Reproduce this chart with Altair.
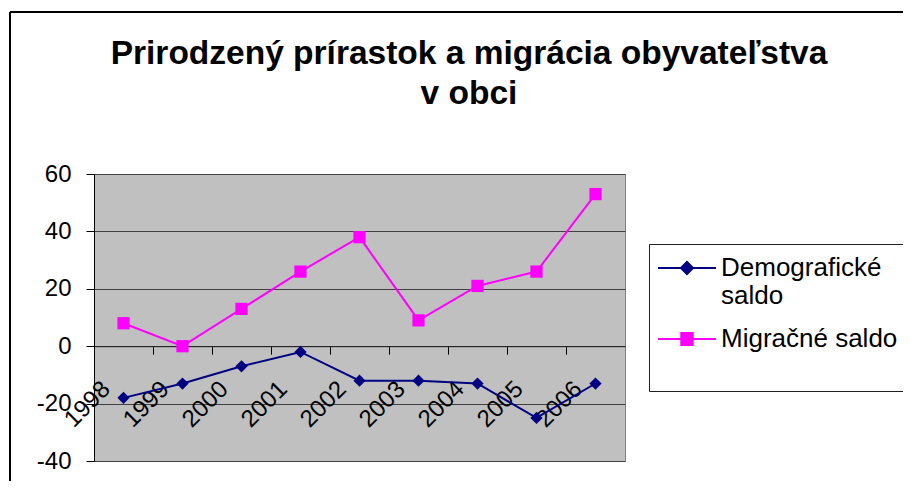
import altair as alt
import pandas as pd

years = ["1998", "1999", "2000", "2001", "2002", "2003", "2004", "2005", "2006"]
demograficke = [-18, -13, -7, -2, -12, -12, -13, -25, -13]
migracne = [8, 0, 13, 26, 38, 9, 21, 26, 53]
series = ["Demografické saldo", "Migračné saldo"]
colors = ["#000080", "#FF00FF"]
marker_shapes = ["diamond", "square"]
legend_shapes = [
    "M-2.5,0H7.16M1.33,0L2.33,-1L3.33,0L2.33,1Z",
    "M-2.5,0H7.16M1.38,-1H3.28V1H1.38Z",
]
title_lines = ["Prirodzený prírastok a migrácia obyvateľstva", "v obci"]
y_ticks = [-40, -20, 0, 20, 40, 60]

df = pd.DataFrame({
    "rok": years * 2,
    "seria": [series[0]] * len(years) + [series[1]] * len(years),
    "hodnota": demograficke + migracne,
})

FONT = "Liberation Sans"
W, H = 531, 287
y_dom = [-40, 60]
zero_px = H * (y_dom[1] - 0) / (y_dom[1] - y_dom[0])

x_scale = alt.Scale(type="band", paddingInner=0, paddingOuter=0)
y_scale = alt.Scale(domain=y_dom, nice=False, zero=False)

x_axis = alt.Axis(
    orient="bottom", offset=-(H - zero_px), bandPosition=0,
    labelAngle=315, labelAlign="right", labelBaseline="middle",
    labelFont=FONT, labelFontSize=24, labelColor="black",
    labelPadding=31, labelOffset=-17, labelOverlap=False, labelFlush=False,
    tickSize=8, tickColor="black", tickWidth=1,
    domainColor="#202020", domainWidth=1, grid=False, title=None,
)
y_axis = alt.Axis(
    values=y_ticks, grid=True, gridColor="#404040", gridWidth=1,
    labelFont=FONT, labelFontSize=24, labelColor="black", labelPadding=15,
    labelExpr="'' + datum.value",
    tickSize=8, tickColor="black", domainColor="black", title=None,
)

base = alt.Chart(df)
layers = []
for i, s in enumerate(series):
    sub = base.transform_filter(alt.datum.seria == s)
    if i == 0:
        xe = alt.X("rok:N", bandPosition=0.5, scale=x_scale, axis=x_axis)
        ye = alt.Y("hodnota:Q", scale=y_scale, axis=y_axis)
    else:
        xe = alt.X("rok:N", bandPosition=0.5)
        ye = alt.Y("hodnota:Q")
    layers.append(sub.mark_line(color=colors[i], strokeWidth=2).encode(x=xe, y=ye))
    layers.append(sub.mark_point(filled=True, color=colors[i], shape=marker_shapes[i],
                                 size=150, opacity=1).encode(
        x=alt.X("rok:N", bandPosition=0.5), y=alt.Y("hodnota:Q")))

leg = alt.Legend(
    title=None, orient="none", legendX=555, legendY=70,
    fillColor="white", strokeColor="#202020", padding=11,
    symbolSize=144, symbolStrokeWidth=2,
    labelFont=FONT, labelFontSize=26, labelColor="black", labelOffset=35,
    labelLimit=400, rowPadding=17, labelBaseline="middle",
    labelExpr="datum.label == 'Demografické saldo' ? ['Demografické', 'saldo'] : [datum.label, ' ']",
)
legend_layer = base.mark_point(filled=False, clip=True, opacity=1, strokeWidth=2).encode(
    x=alt.X("rok:N", bandPosition=0.5),
    y=alt.value(-1000),
    color=alt.Color("seria:N", scale=alt.Scale(domain=series, range=colors), legend=leg),
    fill=alt.Fill("seria:N", scale=alt.Scale(domain=series, range=colors), legend=leg),
    shape=alt.Shape("seria:N", scale=alt.Scale(domain=series, range=legend_shapes), legend=leg),
)

frame = alt.Chart(pd.DataFrame({"k": [0]}))
border_left = frame.mark_rule(color="black", strokeWidth=2).encode(
    x=alt.value(-84), y=alt.value(-162), y2=alt.value(330))
border_top = frame.mark_rule(color="black", strokeWidth=2).encode(
    x=alt.value(-84), x2=alt.value(830), y=alt.value(-162))

chart = alt.layer(*layers, legend_layer, border_left, border_top).properties(
    width=W, height=H,
    title=alt.TitleParams(
        title_lines, font=FONT, fontSize=33.5, fontWeight="bold", color="black",
        anchor="middle", dx=109.5, offset=-100, lineHeight=40,
    ),
    autosize=alt.AutoSizeParams(type="none"),
    padding={"left": 86, "top": 166, "right": 278, "bottom": 20},
).configure_view(
    fill="#C0C0C0", stroke="#808080", strokeWidth=1,
)

chart.save("out.html", embed_options={"renderer": "svg", "actions": False})
